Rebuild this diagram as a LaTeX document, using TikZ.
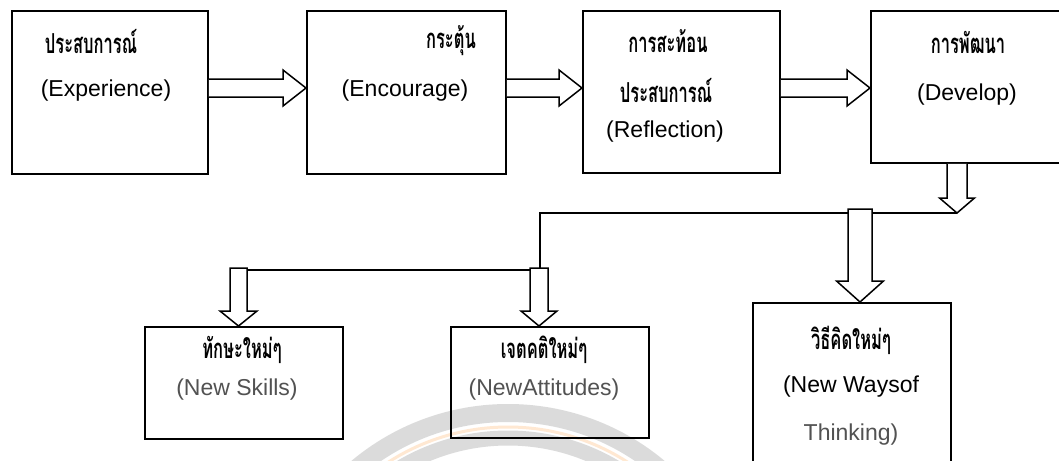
\documentclass[tikz,border=0pt]{standalone}
\usepackage{fontspec}
\usepackage{graphicx}
\setmainfont{Liberation Sans}
\newfontfamily\thai[Script=Thai]{Loma}
\usetikzlibrary{calc}
\newcommand\harrow[2]{\draw[arr] ($(#1)+(0,-9)$) -- ($(#2)+(-23,-9)$) -- ($(#2)+(-23,-18)$) -- (#2) -- ($(#2)+(-23,18)$) -- ($(#2)+(-23,9)$) -- ($(#1)+(0,9)$);}
\newcommand\varrow[6]{\draw[arr] ($(#1)+(-#3,0)$) -- ($(#2)+(-#3,-#5)$) -- ($(#2)+(-#4,-#5)$) -- (#2) -- ($(#2)+(#4,-#5)$) -- ($(#2)+(#3,-#5)$) -- ($(#1)+(#3,0)$) #6;}
\newcommand\tht[1]{\scalebox{0.66}[1.1]{#1}}
\begin{document}
\begin{tikzpicture}[x=1pt,y=-1pt,
  box/.style={draw, line width=1.8pt, inner sep=0pt, anchor=north west},
  arr/.style={draw, line width=1.5pt, fill=white, line join=miter},
  conn/.style={line width=1.5pt},
  th/.style={font=\thai\bfseries\fontsize{25}{29}\selectfont, inner sep=0pt},
  en/.style={font=\fontsize{23}{27}\selectfont, inner sep=0pt},
  eng/.style={en, text=black!68}]
\useasboundingbox (0,0) rectangle (1059,460);
\fill[white] (0,0) rectangle (1059,460);
% faint watermark
\begin{scope}[opacity=0.25]
  \draw[line width=18pt, black!55] (508,648) circle[radius=235pt];
  \draw[line width=15pt, black!55] (508,648) circle[radius=210pt];
  \draw[line width=3pt, orange!70] (508,648) circle[radius=221pt];
\end{scope}
% boxes
\node[box, minimum width=196pt, minimum height=163pt] (b1) at (11,10) {};
\node[box, minimum width=199pt, minimum height=163pt] (b2) at (306,10) {};
\node[box, minimum width=197pt, minimum height=162pt] (b3) at (582,10) {};
\node[box, minimum width=210pt, minimum height=152pt] (b4) at (870,10) {};
\node[box, minimum width=198pt, minimum height=112pt] (s1) at (144,326) {};
\node[box, minimum width=198pt, minimum height=111pt] (s2) at (450,326) {};
\node[box, minimum width=198pt, minimum height=180pt] (s3) at (752,302) {};
% texts
\node[th] (t1) at (91,41) {\tht{ประสบการณ์}};
\node[en] (e1) at (106,91) {(Experience)};
\node[th] (t2) at (451,41) {\tht{กระตุ้น}};
\node[en] (e2) at (405,91) {(Encourage)};
\node[th] (t3) at (668,41) {\tht{การสะท้อน}};
\node[th] (t3b) at (666,90) {\tht{ประสบการณ์}};
\node[en] (e3) at (665,132) {(Reflection)};
\node[th] (t4) at (968,42) {\tht{การพัฒนา}};
\node[en] (e4) at (967,95) {(Develop)};
\node[th] (t5) at (242,350) {\tht{ทักษะใหม่ๆ}};
\node[eng] (e5) at (237,390) {(New Skills)};
\node[th] (t6) at (544,350) {\tht{เจตคติใหม่ๆ}};
\node[eng] (e6) at (544,390) {(NewAttitudes)};
\node[th] (t7) at (851,340) {\tht{วิธีคิดใหม่ๆ}};
\node[en] (e7) at (851,387) {(New Waysof};
\node[eng] (e7b) at (851,435) {Thinking)};
% horizontal arrows
\coordinate (hA) at (0,88);
\coordinate (a1s) at (b1.east |- hA);
\coordinate (a1t) at (b2.west |- hA);
\coordinate (a2s) at (b2.east |- hA);
\coordinate (a2t) at (b3.west |- hA);
\coordinate (a3s) at (b3.east |- hA);
\coordinate (a3t) at (b4.west |- hA);
\harrow{a1s}{a1t}
\harrow{a2s}{a2t}
\harrow{a3s}{a3t}
% branching connector
\coordinate (j0) at (957,213);
\coordinate (j1) at (540,213);
\coordinate (j2) at (540,270);
\coordinate (j3) at (240,270);
\draw[conn] (j0) -- (j1) -- (j2) -- (j3);
% down arrow from Develop
\coordinate (d1) at (j0 |- b4.south);
\varrow{d1}{j0}{10}{17.5}{15}{}
% arrows to bottom boxes
\coordinate (sA) at (238.5,268);
\coordinate (sAt) at (sA |- s1.north);
\varrow{sA}{sAt}{8.5}{18.5}{15}{-- cycle}
\coordinate (sB) at (539,268);
\coordinate (sBt) at (sB |- s2.north);
\varrow{sB}{sBt}{9}{18}{15}{-- cycle}
\coordinate (sC) at (860,209);
\coordinate (sCt) at (sC |- s3.north);
\varrow{sC}{sCt}{12}{23.5}{21}{-- cycle}
\end{tikzpicture}
\end{document}
